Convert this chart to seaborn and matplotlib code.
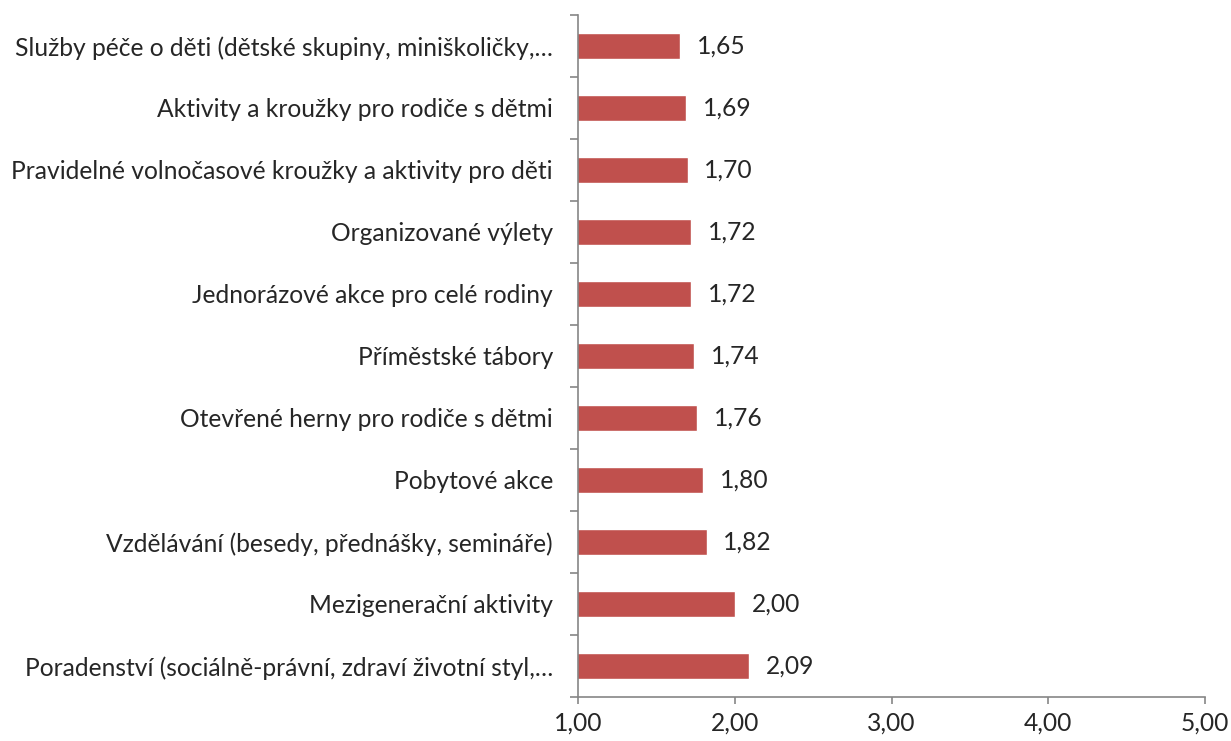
import numpy as np
import pandas as pd
import matplotlib
matplotlib.use('Agg')
import matplotlib.pyplot as plt
import seaborn as sns

categories = [
    "Služby péče o děti (dětské skupiny, miniškoličky,…",
    "Aktivity a kroužky pro rodiče s dětmi",
    "Pravidelné volnočasové kroužky a aktivity pro děti",
    "Organizované výlety",
    "Jednorázové akce pro celé rodiny",
    "Příměstské tábory",
    "Otevřené herny pro rodiče s dětmi",
    "Pobytové akce",
    "Vzdělávání (besedy, přednášky, semináře)",
    "Mezigenerační aktivity",
    "Poradenství (sociálně-právní, zdraví životní styl,…",
]
values = [1.65, 1.69, 1.70, 1.72, 1.72, 1.74, 1.76, 1.80, 1.82, 2.00, 2.09]
x_ticks = [1, 2, 3, 4, 5]

sns.set_theme(style='white')
plt.rcParams['font.family'] = ['Lato', 'DejaVu Sans']

df = pd.DataFrame({'kategorie': categories, 'hodnota': values})

fig = plt.figure(figsize=(12.31, 7.41), dpi=100)
ax = fig.add_axes([0.4695, 0.0594, 0.5095, 0.9206])

sns.barplot(data=df, y='kategorie', x='hodnota', orient='h', color='#C0504D',
            saturation=1, width=0.42, ax=ax)

ax.set_xlim(1, 5)
ax.set_ylim(len(categories) - 0.5, -0.5)
ax.set_xlabel('')
ax.set_ylabel('')

gray = '#868686'
for side in ['top', 'right']:
    ax.spines[side].set_visible(False)
for side in ['left', 'bottom']:
    ax.spines[side].set_color(gray)
    ax.spines[side].set_linewidth(1.2)

fs = 17.7

# category boundaries get the tick marks, centers carry the labels
ax.set_yticks(np.arange(len(categories) + 1) - 0.5)
ax.set_yticklabels([])
ax.set_yticks(np.arange(len(categories)), minor=True)
ax.set_yticklabels(categories, minor=True, fontsize=fs)
ax.tick_params(axis='y', which='major', length=6, width=1.2, color=gray, direction='out', left=True)
ax.tick_params(axis='y', which='minor', length=0, pad=18)

ax.set_xticks(x_ticks)
ax.set_xticklabels([f"{t:.2f}".replace('.', ',') for t in x_ticks], fontsize=fs)
ax.tick_params(axis='x', length=5, width=1.2, color=gray, direction='out', bottom=True, pad=5.5)

for i, v in enumerate(values):
    ax.annotate(f"{v:.2f}".replace('.', ','), xy=(v, i), xytext=(12, 0),
                textcoords='offset points', va='center', ha='left', fontsize=fs)

plt.savefig('out.png', dpi=100)
